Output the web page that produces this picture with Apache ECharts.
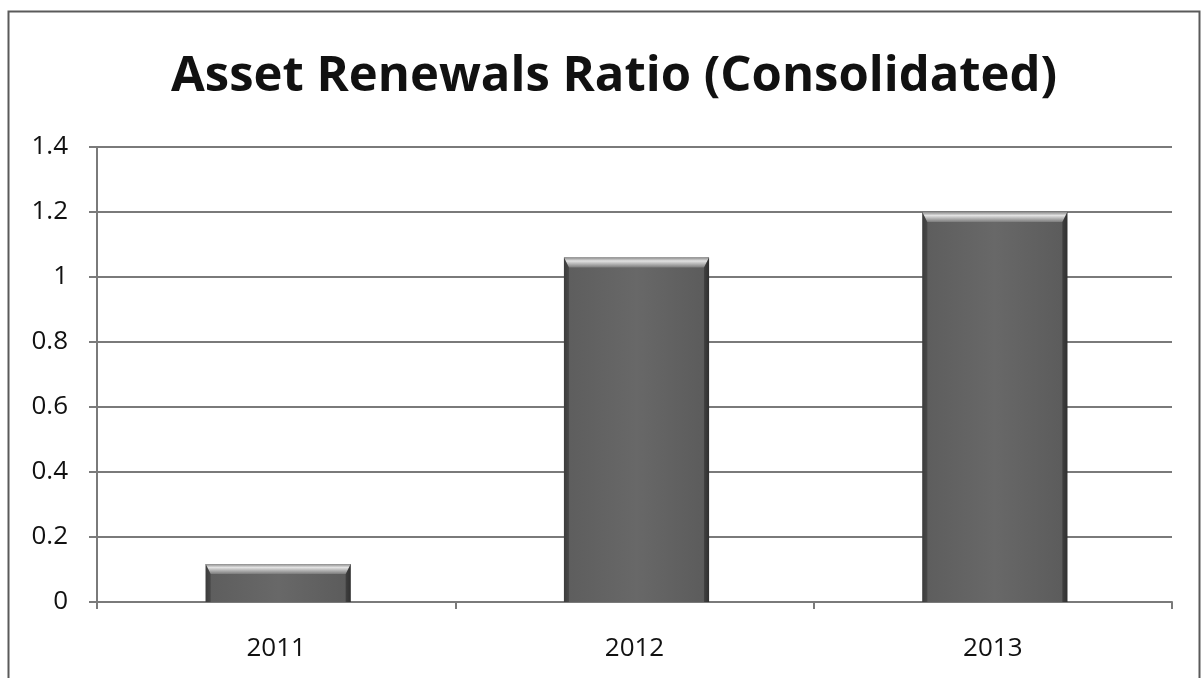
<!DOCTYPE html>
<html>
<head>
<meta charset="utf-8">
<script src="https://cdn.jsdelivr.net/npm/echarts@6/dist/echarts.min.js"></script>
<style>
  html, body { margin: 0; padding: 0; background: #fff; }
  #chart { width: 1204px; height: 678px; }
</style>
</head>
<body>
<div id="chart"></div>
<script>
// Chart content
const titleText = 'Asset Renewals Ratio (Consolidated)';
const years = ['2011', '2012', '2013'];
const ratios = [0.117, 1.06, 1.2];
const yMin = 0;
const yMax = 1.4;
const yStep = 0.2;

const chart = echarts.init(document.getElementById('chart'));

// Bevelled grey column: body with dark sides and a light chamfer on top
function renderBevelBar(params, api) {
  const i = api.value(0);
  const v = api.value(1);
  const top = api.coord([i, v]);
  const base = api.coord([i, 0]);
  const w = api.size([1, 0])[0] * 0.405;
  const x0 = top[0] - w / 2 + 2;
  const x1 = x0 + w;
  const y0 = top[1];
  const y1 = base[1];
  const h = y1 - y0;
  const bev = Math.min(10, h / 2);
  const side = 5;
  return {
    type: 'group',
    children: [
      {
        type: 'rect',
        shape: { x: x0, y: y0, width: w, height: h },
        style: {
          fill: new echarts.graphic.LinearGradient(0, 0, 1, 0, [
            { offset: 0, color: '#474747' },
            { offset: 0.04, color: '#5e5e5e' },
            { offset: 0.5, color: '#686868' },
            { offset: 0.96, color: '#5c5c5c' },
            { offset: 1, color: '#3c3c3c' }
          ])
        }
      },
      {
        type: 'polygon',
        shape: { points: [[x0, y0], [x1, y0], [x1 - side, y0 + bev], [x0 + side, y0 + bev]] },
        style: {
          fill: new echarts.graphic.LinearGradient(0, 0, 0, 1, [
            { offset: 0, color: '#8a8a8a' },
            { offset: 0.35, color: '#e2e2e2' },
            { offset: 1, color: '#7c7c7c' }
          ])
        }
      },
      {
        type: 'polygon',
        shape: { points: [[x0, y0], [x0 + side, y0 + bev], [x0 + side, y1], [x0, y1]] },
        style: { fill: 'rgba(40,40,40,0.35)' }
      },
      {
        type: 'polygon',
        shape: { points: [[x1, y0], [x1 - side, y0 + bev], [x1 - side, y1], [x1, y1]] },
        style: { fill: 'rgba(30,30,30,0.4)' }
      }
    ]
  };
}

chart.setOption({
  backgroundColor: '#ffffff',
  animation: false,
  title: {
    text: titleText,
    left: 166,
    top: 48,
    textStyle: {
      fontFamily: '"Open Sans", sans-serif',
      fontWeight: 'bold',
      fontSize: 49,
      color: '#111111'
    }
  },
  graphic: [
    {
      type: 'rect',
      shape: { x: 8.5, y: 11.5, width: 1191, height: 680 },
      style: { fill: 'none', stroke: '#5a5a5a', lineWidth: 2 }
    }
  ],
  grid: { left: 97, right: 32, top: 147, bottom: 76 },
  xAxis: {
    type: 'category',
    data: years,
    boundaryGap: true,
    axisLine: { lineStyle: { color: '#7a7a7a', width: 2 } },
    axisTick: { show: true, length: 7, alignWithLabel: false, lineStyle: { color: '#7a7a7a', width: 2 } },
    axisLabel: {
      margin: 34,
      fontFamily: '"Open Sans", sans-serif',
      fontSize: 26,
      color: '#111111'
    }
  },
  yAxis: {
    type: 'value',
    min: yMin,
    max: yMax,
    interval: yStep,
    axisLine: { show: true, lineStyle: { color: '#7a7a7a', width: 2 } },
    axisTick: { show: true, length: 8, lineStyle: { color: '#7a7a7a', width: 2 } },
    splitLine: { show: true, lineStyle: { color: '#7a7a7a', width: 2 } },
    axisLabel: {
      margin: 29,
      fontFamily: '"Open Sans", sans-serif',
      fontSize: 26,
      color: '#111111',
      formatter: function (v) { return String(Math.round(v * 10) / 10); }
    }
  },
  series: [
    {
      type: 'custom',
      renderItem: renderBevelBar,
      encode: { x: 0, y: 1 },
      data: ratios.map(function (v, i) { return [i, v]; }),
      z: 3
    }
  ]
});
</script>
</body>
</html>
